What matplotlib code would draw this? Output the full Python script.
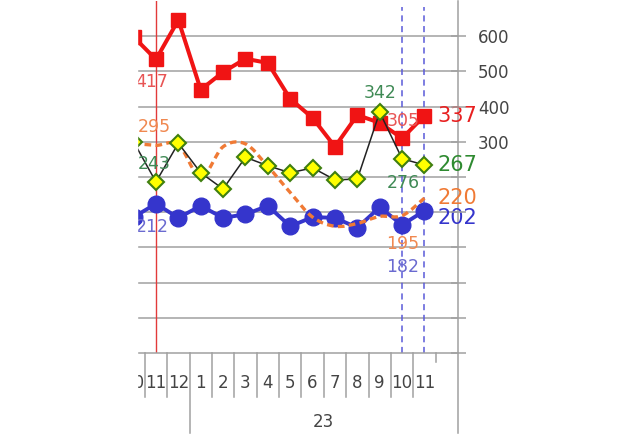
import numpy as np
import matplotlib
matplotlib.use("Agg")
import matplotlib.pyplot as plt
from matplotlib.path import Path
from matplotlib.patches import PathPatch, Rectangle

# Data (left scale, index 0 = Oct of previous year)
months = ['10', '11', '12', '1', '2', '3', '4', '5', '6', '7', '8', '9', '10', '11']
red = [449, 417, 473, 374, 399, 418, 412, 361, 334, 293, 338, 327, 305, 337]
green = [300, 243, 298, 256, 233, 278, 266, 256, 263, 246, 247, 342, 276, 267]
orange = [298, 295, 296, 250, 293, 297, 265, 228, 193, 180, 184, 194, 195, 220]
blue = [193, 212, 192, 209, 192, 197, 209, 180, 193, 192, 178, 207, 182, 202]
year_label = '23'
right_ticks = [300, 400, 500, 600]

W, H = 630, 441
fig = plt.figure(figsize=(W / 100, H / 100), dpi=100)
x0, x1, ytop, ybot = 137, 458, 1, 353
ax = fig.add_axes([x0 / W, (H - ybot) / H, (x1 - x0) / W, (ybot - ytop) / H])

px = 22.4  # pixels per month
xl = 0 + (x0 - 133.6) / px
ax.set_xlim(xl, 14.5)
ax.set_ylim(0, 500)

grey = '#a0a0a0'
for v in range(50, 500, 50):
    ax.axhline(v, color=grey, lw=1.1, zorder=0)
for s in ['left', 'top', 'right']:
    ax.spines[s].set_visible(False)
ax.spines['bottom'].set_color(grey)
ax.spines['bottom'].set_linewidth(1.1)
ax.set_xticks([])
ax.set_yticks([])

xs = np.arange(len(months))

# markers on the chart
ax.axvline(1, color='#e23a3a', lw=1.0, zorder=1)
for xv in [12, 13]:
    ax.plot([xv, xv], [0, 492], color='#5a5ad8', lw=1.1, ls=(0, (4, 3)), zorder=1)

# blue
ax.plot(xs, blue, color='#3535cc', lw=2.8, marker='o', ms=12, mec='#3535cc', zorder=3)

# orange smooth dashed line (Catmull-Rom through data points)
pts = np.column_stack([xs, orange]).astype(float)
verts = [pts[0]]
codes = [Path.MOVETO]
for i in range(len(pts) - 1):
    p0 = pts[i - 1] if i > 0 else pts[i]
    p3 = pts[i + 2] if i + 2 < len(pts) else pts[i + 1]
    c1 = pts[i] + (pts[i + 1] - p0) / 6
    c2 = pts[i + 1] - (p3 - pts[i]) / 6
    verts += [c1, c2, pts[i + 1]]
    codes += [Path.CURVE4] * 3
ax.add_patch(PathPatch(Path(verts, codes), fill=False, edgecolor='#f07a35',
                       lw=2.4, ls=(0, (2, 1.3)), zorder=4))

# red
ax.plot(xs, red, color='#f01414', lw=2.9, marker='s', ms=10, mec='#f01414', zorder=5)

# green
ax.plot(xs, green, color='#222222', lw=1.1, marker='D', ms=8, mfc='#ffff00',
        mec='#3f7f10', mew=1.5, zorder=6)

# value labels
def lab(x, y, txt, color, dx, dy, size=12.5, ha='center'):
    ax.annotate(txt, (x, y), xytext=(dx, dy), textcoords='offset pixels',
                ha=ha, va='center', color=color, fontsize=size, zorder=8,
                annotation_clip=False)

lab(1, red[1], '417', '#e85555', -4, -23)
lab(1, orange[1], '295', '#f08850', -2, 18)
lab(1, green[1], '243', '#3f8a55', -2, 18)
lab(1, blue[1], '212', '#6a6ad0', -4, -23)
lab(11, green[11], '342', '#3f8a55', 0, 19)
lab(12, red[12], '305', '#e85555', 1, 17)
lab(12, green[12], '276', '#3f8a55', 1, -24)
lab(12, orange[12], '195', '#f08850', 1, -28)
lab(12, blue[12], '182', '#6a6ad0', 1, -42)
lab(13, red[13], '337', '#e82020', 13, 0, size=15, ha='left')
lab(13, green[13], '267', '#2e8a30', 13, 0, size=15, ha='left')
lab(13, orange[13], '220', '#f07a35', 13, 0, size=15, ha='left')
lab(13, blue[13], '202', '#3535cc', 13, -7, size=15, ha='left')

# month axis drawn below the plot
tr = ax.get_xaxis_transform()
for i in range(len(months)):
    ax.text(i, -0.085, months[i], transform=tr, ha='center', va='center',
            fontsize=12, color='#444444', clip_on=False)
for b in np.arange(-0.5, 13.0, 1.0):
    low = -0.227 if b == 2.5 else -0.125
    ax.plot([b, b], [0, low], transform=tr, color=grey, lw=1.1, clip_on=False)
ax.plot([13.5, 13.5], [0, -0.026], transform=tr, color=grey, lw=1.1, clip_on=False)
ax.plot([14.5, 14.5], [-0.227, 1], transform=tr, color=grey, lw=1.1, clip_on=False)
ax.text(8.5, -0.196, year_label, transform=tr, ha='center', va='center',
        fontsize=12, color='#444444')

# right scale
ax2 = ax.twinx()
ax2.set_ylim(-300, 700)
ax2.set_yticks(range(-300, 700, 100))
ax2.set_yticklabels([str(t) if t in right_ticks else '' for t in range(-300, 700, 100)])
ax2.tick_params(axis='y', direction='inout', length=10.8, width=1.1, color=grey,
                labelsize=12, labelcolor='#444444', pad=9)
for s in ['left', 'top', 'bottom', 'right']:
    ax2.spines[s].set_visible(False)

# cut off the left part like the source image
fig.add_artist(Rectangle((0, 0), x0 / W, 1, transform=fig.transFigure,
                         color='white', zorder=20))

fig.savefig('out.png', dpi=100)
